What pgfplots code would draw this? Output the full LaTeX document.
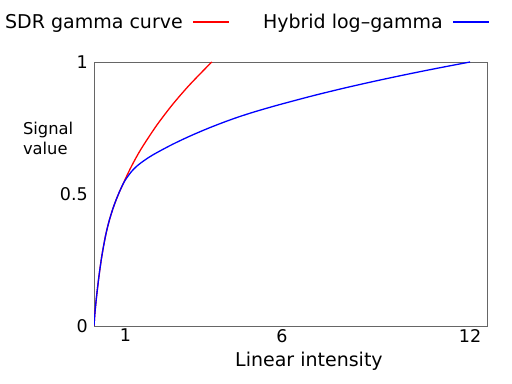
\documentclass[border=0pt]{standalone}
\usepackage{pgfplots}
\pgfplotsset{compat=1.18}
\usepackage{fontspec}
\setmainfont{DejaVu Sans}
\begin{document}
\begin{tikzpicture}
\path[use as bounding box] (0,0) rectangle (512bp,384bp);
\begin{axis}[
  at={(94bp,58bp)}, anchor=south west,
  scale only axis, width=393bp, height=264bp,
  xmin=0, xmax=12.54, ymin=0, ymax=1,
  xtick={1,6,12}, ytick={0,0.5,1},
  yticklabels={0,0.5,1},
  major tick length=0pt,
  axis line style={draw=black!60, line width=0.8bp},
  /pgf/number format/assume math mode=true,
  tick label style={font=\fontsize{17.5bp}{20bp}\selectfont, inner sep=0pt},
  xticklabel style={yshift=-3bp},
  yticklabel style={xshift=-6bp},
  xlabel={Linear intensity},
  xlabel style={font=\fontsize{19bp}{22bp}\selectfont, at={(rel axis cs:0.547,-0.155)}, anchor=base, inner sep=0pt},
  ylabel={Signal\\value},
  ylabel style={font=\fontsize{16.3bp}{20bp}\selectfont, align=left, rotate=-90, at={(rel axis cs:-0.181,0.772)}, anchor=north west, inner sep=0pt},
  legend columns=2,
  legend plot pos=right,
  legend image code/.code={\draw[#1] (0bp,0bp) -- (36bp,0bp);},
  legend style={draw=none, fill=none, at={(rel axis cs:-0.2265,1.1515)}, anchor=west,
    font=\fontsize{19bp}{22bp}\selectfont, inner sep=0pt,
    nodes={inner sep=0pt},
    /tikz/column sep=10bp,
    /tikz/every even column/.append style={column sep=33bp}},
]
\addplot[red, line width=1.3bp, smooth] coordinates {
(0,0) (0.03,0.05) (0.08,0.11) (0.16,0.19) (0.25,0.265) (0.374,0.345) (0.5,0.405)
(0.64,0.457) (0.8,0.505) (0.94,0.541) (1.0,0.557) (1.2,0.606) (1.5,0.670)
(2.0,0.760) (2.5,0.838) (3.0,0.907) (3.5,0.969) (3.76,1.0)};
\addlegendentry{SDR gamma curve}
\addplot[blue, line width=1.3bp, smooth] coordinates {
(0,0) (0.03,0.05) (0.08,0.11) (0.16,0.19) (0.25,0.265) (0.374,0.345) (0.5,0.405)
(0.64,0.457) (0.8,0.505) (0.94,0.541) (1.05,0.5617) (1.2,0.5857) (1.35,0.6037)
(1.5,0.6182) (1.75,0.6387) (2.0,0.6563) (2.5,0.6878) (3.0,0.716) (3.5,0.7418)
(4.0,0.7655) (4.5,0.7873) (5.0,0.8068) (5.5,0.8245) (6.0,0.8411) (7.0,0.8726)
(8.0,0.9016) (9.0,0.9284) (10.0,0.9536) (11.0,0.9774) (12.0,1.0)};
\addlegendentry{Hybrid log–gamma}
\end{axis}
\end{tikzpicture}
\end{document}
